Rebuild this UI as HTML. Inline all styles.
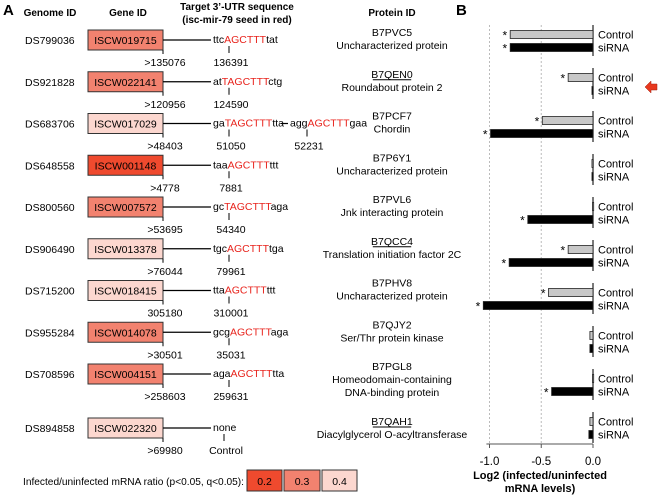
<!DOCTYPE html>
<html><head><meta charset="utf-8"><style>
body{margin:0;background:#fff}
svg{font-family:"Liberation Sans",sans-serif;font-size:10.5px}
</style></head><body>
<svg id="fig" width="658" height="495" viewBox="0 0 658 495" xmlns="http://www.w3.org/2000/svg">
<text x="3" y="15" font-size="15" font-weight="bold">A</text>
<text x="456" y="15" font-size="15" font-weight="bold">B</text>
<g font-weight="bold" font-size="10" text-anchor="middle">
<text x="50" y="16">Genome ID</text>
<text x="128" y="16">Gene ID</text>
<text x="237" y="10">Target 3’-UTR sequence</text>
<text x="237" y="23">(isc-mir-79 seed in red)</text>
<text x="392" y="16">Protein ID</text>
</g>
<g id="rows"></g>
<g>
<text x="23" y="485" textLength="221" lengthAdjust="spacingAndGlyphs">Infected/uninfected mRNA ratio (p&lt;0.05, q&lt;0.05):</text>
<rect x="247" y="470" width="35" height="21" fill="#ef4a2e" stroke="#333"/><text x="264.5" y="485" text-anchor="middle">0.2</text>
<rect x="284" y="470" width="36" height="21" fill="#f2826f" stroke="#333"/><text x="302" y="485" text-anchor="middle">0.3</text>
<rect x="322" y="470" width="35" height="21" fill="#fcd7cf" stroke="#333"/><text x="339.5" y="485" text-anchor="middle">0.4</text>
</g>
<g id="chart"></g>
<polygon points="645,87 651,81 651,84 657,84 657,90 651,90 651,93" fill="#e8381e" stroke="#a02010" stroke-width="0.5"/>
</svg>
<script>
const NS="http://www.w3.org/2000/svg";
function mk(tag,attrs,parent,txt){const e=document.createElementNS(NS,tag);for(const k in attrs)e.setAttribute(k,attrs[k]);if(txt!==undefined)e.textContent=txt;parent.appendChild(e);return e;}
const genomes=["DS799036","DS921828","DS683706","DS648558","DS800560","DS906490","DS715200","DS955284","DS708596","DS894858"];
const genes=["ISCW019715","ISCW022141","ISCW017029","ISCW001148","ISCW007572","ISCW013378","ISCW018415","ISCW014078","ISCW004151","ISCW022320"];
const ratios=[0.3,0.3,0.4,0.2,0.3,0.4,0.4,0.3,0.3,0.4];
const starts=[">135076",">120956",">48403",">4778",">53695",">76044","305180",">30501",">258603",">69980"];
const seqPre=["ttc","at","ga","taa","gc","tgc","tta","gcg","aga","none"];
const seqSeed=["AGCTTT","TAGCTTT","TAGCTTT","AGCTTT","TAGCTTT","AGCTTT","AGCTTT","AGCTTT","AGCTTT",""];
const seqPost=["tat","ctg","tta","ttt","aga","tga","ttt","aga","tta",""];
const sites=["136391","124590","51050","7881","54340","79961","310001","35031","259631","Control"];
const protIds=["B7PVC5","B7QEN0","B7PCF7","B7P6Y1","B7PVL6","B7QCC4","B7PHV8","B7QJY2","B7PGL8","B7QAH1"];
const underlined=[false,true,false,false,false,true,false,false,false,true];
const protNames=[["Uncharacterized protein"],["Roundabout protein 2"],["Chordin"],["Uncharacterized protein"],["Jnk interacting protein"],["Translation initiation factor 2C"],["Uncharacterized protein"],["Ser/Thr protein kinase"],["Homeodomain-containing","DNA-binding protein"],["Diacylglycerol O-acyltransferase"]];
const colorOf={0.2:"#ef4a2e",0.3:"#f2826f",0.4:"#fcd7cf"};
const rows=document.getElementById('rows');
genomes.forEach((g,i)=>{
  const y=i<9?40+i*41.75:428;
  const grp=mk('g',{},rows);
  
  
  mk('text',{x:25,y:y+4},grp,g);
  const r=mk('rect',{x:88,y:y-10,width:75,height:20,fill:colorOf[ratios[i]],stroke:"#333"},grp);
  
  
  mk('text',{x:125.5,y:y+4,"text-anchor":"middle"},grp,genes[i]);
  mk('line',{x1:163,y1:y,x2:211,y2:y,stroke:"#000","stroke-width":1.2},grp);
  mk('line',{x1:163,y1:y+10,x2:163,y2:y+14,stroke:"#000"},grp);
  mk('text',{x:165,y:y+26,"text-anchor":"middle"},grp,starts[i]);
  const t=mk('text',{x:213,y:y+3},grp);
  mk('tspan',{},t,seqPre[i]);mk('tspan',{fill:"#e8231c"},t,seqSeed[i]);mk('tspan',{},t,seqPost[i]);
  const tx=i===9?224:229;
  mk('line',{x1:tx,y1:y+6,x2:tx,y2:y+13,stroke:"#000"},grp);
  mk('text',{x:tx+2,y:y+26,"text-anchor":"middle"},grp,sites[i]);
  if(i===2){
    mk('line',{x1:281,y1:y,x2:288,y2:y,stroke:"#000","stroke-width":1.2},grp);
    const t2=mk('text',{x:290,y:y+3},grp);
    mk('tspan',{},t2,"agg");mk('tspan',{fill:"#e8231c"},t2,"AGCTTT");mk('tspan',{},t2,"gaa");
    mk('line',{x1:307,y1:y+6,x2:307,y2:y+13,stroke:"#000"},grp);
    mk('text',{x:309,y:y+26,"text-anchor":"middle"},grp,"52231");
  }
  const py=i===9?y-3:y-4;
  mk('text',{x:392,y:py,"text-anchor":"middle"},grp,protIds[i]);
  if(underlined[i]){const w=protIds[i].length*6.4;mk('line',{x1:392-w/2,y1:py+2,x2:392+w/2,y2:py+2,stroke:"#000"},grp);}
  protNames[i].forEach((n,k)=>mk('text',{x:392,y:py+13+k*13,"text-anchor":"middle"},grp,n));
});
// Chart B data
const groups=["B7PVC5","B7QEN0","B7PCF7","B7P6Y1","B7PVL6","B7QCC4","B7PHV8","B7QJY2","B7PGL8","B7QAH1"];
const controlVals=[-0.80,-0.24,-0.49,-0.01,-0.005,-0.24,-0.43,-0.03,-0.005,-0.03];
const sirnaVals=[-0.80,-0.01,-0.99,-0.01,-0.63,-0.81,-1.06,-0.03,-0.40,-0.04];
const controlSig=[true,true,true,false,false,true,true,false,false,false];
const sirnaSig=[true,false,true,false,true,true,true,false,true,false];
const tickVals=[-1.0,-0.5,0.0];
const tickLabels=["-1.0","-0.5","0.0"];
const chart=document.getElementById('chart');
const X=v=>593+v*103.5;
const Y=i=>41+i*43;
tickVals.forEach((v,k)=>{
  if(v<0){const gl=mk('line',{x1:X(v),y1:25,x2:X(v),y2:444,stroke:"#bbb","stroke-dasharray":"2,2"},chart);
  }
  mk('line',{x1:X(v),y1:444,x2:X(v),y2:448,stroke:"#555"},chart);
  const tl=mk('text',{x:X(v),y:465,"text-anchor":"middle","font-size":"11.5"},chart,tickLabels[k]);
  
});
const ax=mk('line',{x1:X(-1.03),y1:444,x2:X(0),y2:444,stroke:"#555"},chart);

const t1=mk('text',{x:540,y:479,"text-anchor":"middle","font-weight":"bold","font-size":"11"},chart,"Log2 (infected/uninfected");

mk('text',{x:540,y:492,"text-anchor":"middle","font-weight":"bold","font-size":"11"},chart,"mRNA levels)");
groups.forEach((g,i)=>{
  const yc=Y(i);
  const z=mk('line',{x1:X(0),y1:yc-16,x2:X(0),y2:yc+15,stroke:"#333","stroke-width":1.3},chart);
  
  [[controlVals,controlSig,"#c8c8c8",-6.5,"Control"],[sirnaVals,sirnaSig,"#000",6.5,"siRNA"]].forEach(([vals,sig,fill,off,lab])=>{
    const v=vals[i],y=yc+off;
    const b=mk('rect',{x:X(v),y:y-4,width:Math.max(X(0)-X(v),1.2),height:8,fill:fill,stroke:"#222","stroke-width":0.8},chart);
    
    
    if(sig[i]){mk('text',{x:X(v)-3,y:y+5,"text-anchor":"end","font-size":"12"},chart,"*");}
    const l=mk('text',{x:598,y:y+4,"font-size":"11"},chart,lab);
    
  });
});
</script>
</body></html>
